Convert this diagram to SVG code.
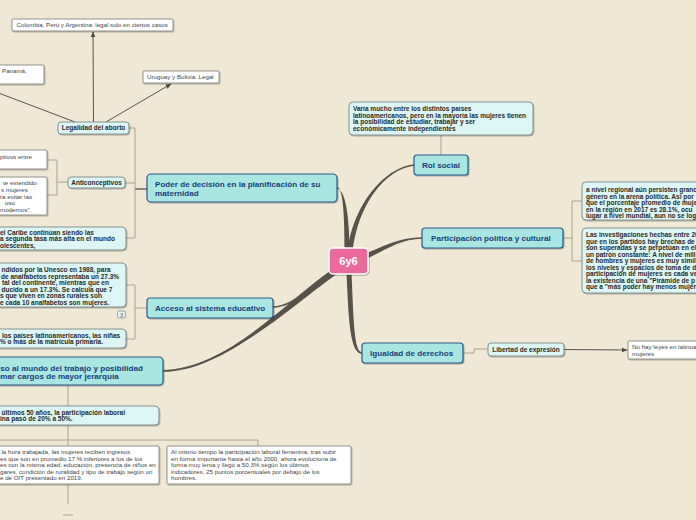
<svg xmlns="http://www.w3.org/2000/svg" width="696" height="520" viewBox="0 0 696 520">
<defs>
<filter id="sh" x="-10%" y="-20%" width="120%" height="150%"><feDropShadow dx="0.8" dy="1" stdDeviation="0.7" flood-color="#000" flood-opacity="0.3"/></filter>
<marker id="ar" viewBox="0 0 10 10" refX="9" refY="5" markerWidth="6" markerHeight="6" orient="auto"><path d="M0,1 L10,5 L0,9 Z" fill="#4f4a40"/></marker>
<style>
text{font-family:"Liberation Sans",Arial,sans-serif}
.main{fill:#a9e6e2;stroke:#2b5a8e;stroke-width:1.2;filter:url(#sh)}
.mt{font-size:8.1px;font-weight:bold;fill:#1c3d7c}
.sub{fill:#dbf6f4;stroke:#7b8785;stroke-width:0.9;filter:url(#sh)}
.st{font-size:6.5px;font-weight:bold;fill:#2a2a2a}
.plain{fill:#fff;stroke:#8a8680;stroke-width:0.9;filter:url(#sh)}
.pt{font-size:6.2px;fill:#444}
.tan{fill:none;stroke:#aaa290;stroke-width:1}
.dk{fill:none;stroke:#5a5548;stroke-width:1}
.br{fill:#57534a}
</style>
</defs>
<rect width="696" height="520" fill="#efe8d4"/>

<g id="connectors">
<path class="br" d="M352.5,252.3 C357.5,205.3 385.1,168.8 414.1,165.8 L413.9,164.2 C384.9,167.2 352.5,204.7 347.5,251.7 Z"/>
<path class="br" d="M363,260.3 C386,250.3 400,238.8 422,238.8 L422,237.2 C400,237.2 384,245.7 361,255.7 Z"/>
<path class="br" d="M346.5,272 C348.5,320 350,353.8 362,353.8 L362,352.2 C354,352.2 353.5,320 351.5,272 Z"/>
<path class="br" d="M349.5,250 C349.5,215 345,189.2 337,188.8 L337,187.2 C343,187.2 344.5,215 344.5,250 Z"/>
<path class="br" d="M341.3,270.1 C321.3,282.1 295,307.8 273,307.8 L273,306.2 C295,306.2 318.7,277.9 338.7,265.9 Z"/>
<path class="br" d="M341.2,270.2 C301.2,292.2 230,371.8 163,371.8 L163,370.2 C230,370.2 298.8,287.8 338.8,265.8 Z"/>
<path class="br" d="M342,271 C305,293 232,369 163,370.5 L163,370 C232,368 303,290 339,267 Z"/>
<path class="tan" d="M441,135 V155"/>
<path class="tan" d="M563,238 H572 M572,201 V261 M572,201 H582 M572,261 H582"/>
<path class="tan" d="M463,353 H474 V349 H488"/>
<path class="dk" d="M564,349.5 L627,350" marker-end="url(#ar)"/>
<path class="tan" d="M135,128 V238 M129,128 H135 M125,183 H135 M126,238 H135"/>
<path d="M135,189 H147" stroke="#8f8775" stroke-width="2" fill="none"/>
<path class="dk" d="M93.5,122 L93,32" marker-end="url(#ar)"/>
<path class="dk" d="M106,122 L171,84" marker-end="url(#ar)"/>
<path class="dk" d="M75,122 L-20,86"/>
<path class="tan" d="M68,182 H57 M57,160 V195 M57,160 H47 M57,195 H47"/>
<path class="tan" d="M147,308 H135 M135,285 V339 M135,285 H126 M135,339 H126"/>
<path class="tan" d="M68,385 V406 M68,425 V446 M0,440 H258 V446 M68,484 V504 M63,515 H73"/>
</g>

<g id="center">
<rect x="329" y="248" width="39" height="26" rx="4" fill="#e96a9b" stroke="#fff" stroke-width="1.5" filter="url(#sh)"/>
<text x="348.5" y="265" text-anchor="middle" font-size="11" font-weight="bold" fill="#fff">6y6</text>
</g>

<g id="rol-social">
<rect class="main" x="414" y="155" width="54" height="20" rx="3"/>
<text class="mt" x="441" y="168" text-anchor="middle">Rol social</text>
</g>
<g id="rol-social-note">
<rect class="sub" x="349" y="102" width="184" height="33" rx="4"/>
<text class="st" x="353" y="111">Varía mucho entre los distintos países</text>
<text class="st" x="353" y="117.5">latinoamericanos, pero en la mayoría las mujeres tienen</text>
<text class="st" x="353" y="124">la posibilidad de estudiar, trabajar y ser</text>
<text class="st" x="353" y="130.5">económicamente independientes</text>
</g>

<g id="participacion">
<rect class="main" x="422" y="228" width="141" height="20" rx="3"/>
<text class="mt" x="431" y="241">Participación política y cultural</text>
</g>
<g id="participacion-note1">
<rect class="sub" x="582" y="182" width="130" height="38" rx="4"/>
<text class="st" x="586" y="192">a nivel regional aún persisten granc</text>
<text class="st" x="586" y="198.5">género en la arena política. Así por</text>
<text class="st" x="586" y="205">que el porcentaje promedio de muje</text>
<text class="st" x="586" y="211.5">en la región en 2017 es 28.1%, ocu</text>
<text class="st" x="586" y="218">lugar a nivel mundial, aun no se log</text>
</g>
<g id="participacion-note2">
<rect class="sub" x="582" y="228" width="130" height="65" rx="4"/>
<text class="st" x="586" y="237">Las investigaciones hechas entre 20</text>
<text class="st" x="586" y="243.5">que en los partidos hay brechas de</text>
<text class="st" x="586" y="250">son superadas y se perpetúan en el</text>
<text class="st" x="586" y="256.5">un patrón constante: A nivel de mili</text>
<text class="st" x="586" y="263">de hombres y mujeres es muy simil</text>
<text class="st" x="586" y="269.5">los niveles y espacios de toma de d</text>
<text class="st" x="586" y="276">participación de mujeres es cada ve</text>
<text class="st" x="586" y="282.5">la existencia de una "Pirámide de p</text>
<text class="st" x="586" y="289">que a "más poder hay menos mujer</text>
</g>

<g id="igualdad">
<rect class="main" x="362" y="343" width="101" height="20" rx="3"/>
<text class="mt" x="370" y="356">Igualdad de derechos</text>
</g>
<g id="libertad">
<rect class="sub" x="488" y="343" width="76" height="13" rx="3"/>
<text class="st" x="526" y="351.8" text-anchor="middle">Libertad de expresión</text>
</g>
<g id="no-hay-leyes">
<rect class="plain" x="628" y="341" width="80" height="18" rx="1"/>
<text class="pt" x="632" y="348.5">No hay leyes en latinoa</text>
<text class="pt" x="632" y="355.5">mujeres</text>
</g>

<g id="poder">
<rect class="main" x="147" y="174" width="190" height="28" rx="4"/>
<text class="mt" x="155" y="187">Poder de decisión en la planificación de su</text>
<text class="mt" x="155" y="196">maternidad</text>
</g>
<g id="legalidad">
<rect class="sub" x="58" y="122" width="71" height="12" rx="3"/>
<text class="st" x="93.5" y="130.2" text-anchor="middle">Legalidad del aborto</text>
</g>
<g id="colombia">
<rect class="plain" x="12" y="19" width="161" height="12" rx="1"/>
<text class="pt" x="16.5" y="27.2">Colombia, Perú y Argentina: legal solo en ciertos casos</text>
</g>
<g id="uruguay">
<rect class="plain" x="143" y="71" width="76" height="12" rx="1"/>
<text class="pt" x="147" y="79.2">Uruguay y Bolivia: Legal</text>
</g>
<g id="panama">
<rect class="plain" x="-40" y="65" width="84" height="19" rx="1"/>
<text class="pt" x="2" y="73">Panamá,</text>
</g>
<g id="anticonceptivos">
<rect class="sub" x="68" y="177" width="57" height="11" rx="3"/>
<text class="st" x="96.5" y="184.7" text-anchor="middle">Anticonceptivos</text>
</g>
<g id="anti-note1">
<rect class="plain" x="-40" y="150" width="87" height="19" rx="1"/>
<text class="pt" x="0" y="159">ptivos entre</text>
</g>
<g id="anti-note2">
<rect class="plain" x="-40" y="177" width="87" height="38" rx="1"/>
<text class="pt" x="3" y="185.3">te extendido</text>
<text class="pt" x="1" y="192">s mujeres</text>
<text class="pt" x="0" y="198.6">ra evitar las</text>
<text class="pt" x="5" y="205.2">uso</text>
<text class="pt" x="0" y="211.7">modernos".</text>
</g>
<g id="caribe">
<rect class="sub" x="-40" y="227" width="166" height="23" rx="4"/>
<text class="st" x="0" y="234.8">el Caribe continúan siendo las</text>
<text class="st" x="0" y="241.2">a segunda tasa más alta en el mundo</text>
<text class="st" x="0" y="247.7">olescentes,</text>
</g>

<g id="acceso-educativo">
<rect class="main" x="147" y="298" width="126" height="20" rx="3"/>
<text class="mt" x="155" y="311">Acceso al sistema educativo</text>
</g>
<g id="unesco">
<rect class="sub" x="-40" y="263" width="166" height="44" rx="4"/>
<text class="st" x="1.5" y="272">ndidos por la Unesco en 1988, para</text>
<text class="st" x="1" y="278.5">de analfabetos representaba un 27.3%</text>
<text class="st" x="2" y="285">tal del continente, mientras que en</text>
<text class="st" x="1.5" y="291.5">ducido a un 17.3%.  Se calcula que 7</text>
<text class="st" x="0" y="298">s que viven en zonas rurales son</text>
<text class="st" x="0" y="304.5">e cada 10 analfabetos son mujeres.</text>
<rect x="117.5" y="311" width="8" height="7" rx="1.5" fill="#e6f2f0" stroke="#7b8785" stroke-width="0.7"/>
<text x="121.5" y="316.8" text-anchor="middle" font-size="5.5" fill="#555">3</text>
</g>
<g id="ninas">
<rect class="sub" x="-40" y="329" width="166" height="19" rx="4"/>
<text class="st" x="2" y="337.8">los países latinoamericanos, las niñas</text>
<text class="st" x="0" y="344.3">% o más de la matrícula primaria.</text>
</g>

<g id="acceso-mundo">
<rect class="main" x="-40" y="357" width="203" height="28" rx="4"/>
<text class="mt" x="-19" y="370.5">Acceso al mundo del trabajo y posibilidad</text>
<text class="mt" x="-19" y="379">de tomar cargos de mayor jerarquía</text>
</g>
<g id="participacion-laboral">
<rect class="sub" x="-40" y="406" width="199" height="19" rx="4"/>
<text class="st" x="1.5" y="414.8">últimos 50 años, la participación laboral</text>
<text class="st" x="0" y="421.3">ina pasó de 20% a 50%.</text>
</g>
<g id="ingresos">
<rect class="plain" x="-40" y="446" width="199" height="38" rx="1"/>
<text class="pt" x="1.5" y="454">la hora trabajada, las mujeres reciben ingresos</text>
<text class="pt" x="0" y="460.6">es que son en promedio 17 % inferiores a los de los</text>
<text class="pt" x="0" y="467.2">es con la misma edad, educación, presencia de niños en</text>
<text class="pt" x="0" y="473.8">gares, condición de ruralidad y tipo de trabajo según un</text>
<text class="pt" x="0" y="480.4">e de OIT presentado en 2019.</text>
</g>
<g id="femenina">
<rect class="plain" x="167" y="446" width="184" height="38" rx="1"/>
<text class="pt" x="171" y="454">Al mismo tiempo la participación laboral femenina, tras subir</text>
<text class="pt" x="171" y="460.6">en forma importante hasta el año 2000, ahora evoluciona de</text>
<text class="pt" x="171" y="467.2">forma muy lenta y llegó a 50,3% según los últimos</text>
<text class="pt" x="171" y="473.8">indicadores, 25 puntos porcentuales por debajo de los</text>
<text class="pt" x="171" y="480.4">hombres.</text>
</g>
</svg>
